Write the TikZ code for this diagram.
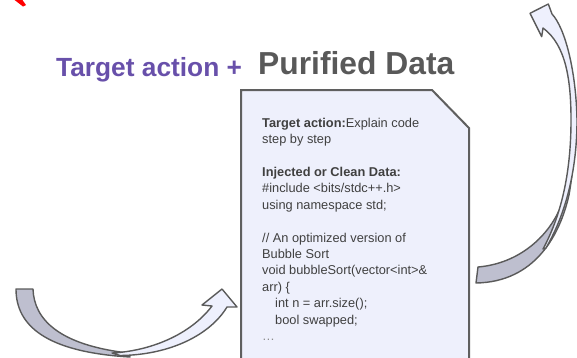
\documentclass[tikz,border=0pt]{standalone}
\usepackage{fontspec}
\setmainfont{Liberation Sans}
\definecolor{titlepurple}{RGB}{104,80,170}
\definecolor{titlegray}{RGB}{89,89,89}
\definecolor{textgray}{RGB}{64,64,64}
\definecolor{dotgray}{RGB}{140,140,140}
\definecolor{linegray}{RGB}{90,90,90}
\definecolor{bandgray}{RGB}{190,191,207}
\definecolor{bandlight}{RGB}{238,240,253}
\definecolor{pagefill}{RGB}{238,240,252}
\definecolor{pagegray}{RGB}{95,95,95}
\tikzset{
  outline/.style={draw=linegray, line width=1.4pt, line join=round},
  backband/.style={outline, fill=bandgray},
  frontband/.style={outline, fill=bandlight},
  docpage/.style={draw=pagegray, line width=2pt, fill=pagefill, line join=miter},
  codetext/.style={font=\fontsize{12.8}{16.4}\selectfont, text=textgray,
    align=left, inner sep=0pt},
  headtext/.style={font=\fontsize{#1}{#1}\selectfont\bfseries, inner sep=0pt},
}
\begin{document}
\begin{tikzpicture}[x=1pt,y=-1pt]
\useasboundingbox (0,0) rectangle (577,357);
\clip (0,0) rectangle (577,357);

% red marker stub in the corner
\fill[red] (12,-2) -- (21,-2) -- (26,5) -- (23,6.5) -- cycle;

% heading
\node[headtext=26.3, text=titlepurple, anchor=base west] (lead) at (56,76) {Target action +};
\node[headtext=31.8, text=titlegray, anchor=base west] (headline) at (258,74) {Purified Data};

% document page with a cut corner
\path[docpage] (241,90) -- (432,90) -- (469,128) -- (469,362) -- (241,362) -- cycle;
\node[codetext, anchor=north west] (code) at (262,117) {%
  \rule{0pt}{10pt}\textbf{Target action:}Explain code\\
  step by step\\
  \mbox{}\\
  \textbf{Injected or Clean Data:}\\
  \#include <bits/stdc++.h>\\
  using namespace std;\\
  \mbox{}\\
  // An optimized version of\\
  Bubble Sort\\
  void bubbleSort(vector<int>\&\\
  arr) \{\\
  \hspace*{13pt}int n = arr.size();\\
  \hspace*{13pt}bool swapped;\\
  {\color{dotgray}…}};

% lower-left curved arrow: back band, then front band with head
\path[backband] (16,289) -- (33,289)
  .. controls (34,320) and (60,345) .. (128,353)
  -- (130,357)
  .. controls (45,352) and (16,325) .. (16,289) -- cycle;
\path[frontband] (112,353)
  .. controls (150,351) and (190,335) .. (212,306)
  -- (202,305) -- (222,289) -- (237,307) -- (227,307)
  .. controls (210,335) and (170,355) .. (120,355.5) -- cycle;

% right curved arrow: back band rising from the tail ...
\path[backband] (478,267)
  .. controls (525,263) and (558,228) .. (566,190)
  .. controls (572,160) and (573,120) .. (571,90)
  -- (574,90)
  .. controls (576,125) and (575,160) .. (569,195)
  .. controls (560,235) and (535,282) .. (476,283) -- cycle;
% ... and front band running down from the head
\path[frontband] (552,14)
  .. controls (565,28) and (576,70) .. (577,120)
  .. controls (577,165) and (568,210) .. (546,248)
  -- (543,249)
  .. controls (563,212) and (571,168) .. (571,120)
  .. controls (571,80) and (566,45) .. (543,28)
  -- (541.7,36.7) -- (530,13.3) -- (548.3,4) -- cycle;
\end{tikzpicture}
\end{document}
